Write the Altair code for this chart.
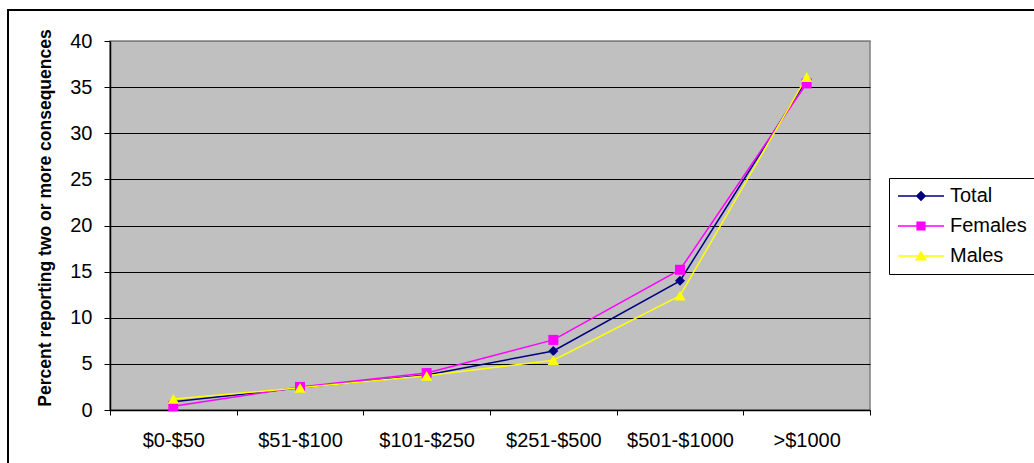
import altair as alt
import pandas as pd

# Spending bands on the x axis
categories = ["$0-$50", "$51-$100", "$101-$250", "$251-$500", "$501-$1000", ">$1000"]

# Percent reporting two or more consequences, per band
series_names = ["Total", "Females", "Males"]
total = [0.9, 2.4, 3.8, 6.4, 14.0, 35.8]
females = [0.4, 2.5, 4.0, 7.6, 15.2, 35.4]
males = [1.2, 2.4, 3.7, 5.4, 12.4, 36.1]

y_ticks = [0, 5, 10, 15, 20, 25, 30, 35, 40]

# Styling per series
series_colors = ["#000080", "#FF00FF", "#FFFF00"]
marker_shapes = ["diamond", "square", "triangle-up"]
marker_sizes = [100, 100, 130]

# Legend glyphs: a short line with the series marker in its middle
legend_paths = [
    "M-1,-0.03H1V0.03H-1Z M0,-0.23L0.23,0L0,0.23L-0.23,0Z",
    "M-1,-0.03H1V0.03H-1Z M-0.2,-0.2H0.2V0.2H-0.2Z",
    "M-1,-0.03H1V0.03H-1Z M0,-0.24L0.27,0.2H-0.27Z",
]

rows = []
for name, vals in zip(series_names, [total, females, males]):
    for cat, v in zip(categories, vals):
        rows.append({"spend": cat, "series": name, "pct": v})
df = pd.DataFrame(rows)

FONT = "Liberation Sans"

x_enc = alt.X(
    "spend:N",
    sort=categories,
    scale=alt.Scale(type="band", domain=categories, paddingInner=0, paddingOuter=0),
    axis=alt.Axis(
        title=None,
        labelAngle=0,
        tickBand="extent",
        tickSize=5,
        tickColor="#000000",
        domainColor="#000000",
        domainWidth=1.5,
        labelFont=FONT,
        labelFontSize=20,
        labelColor="#000000",
        labelPadding=15,
        grid=False,
    ),
)

y_enc = alt.Y(
    "pct:Q",
    scale=alt.Scale(domain=[0, 40], nice=False),
    axis=alt.Axis(
        values=y_ticks,
        title="Percent reporting two or more consequences",
        titleFont=FONT,
        titleFontSize=17.5,
        titleFontWeight="bold",
        titleColor="#000000",
        titleAngle=270,
        titleAlign="center",
        titleBaseline="alphabetic",
        titleX=-59.5,
        titleY=176.5,
        tickSize=6,
        tickColor="#000000",
        domainColor="#000000",
        domainWidth=1.5,
        labelFont=FONT,
        labelFontSize=20,
        labelColor="#000000",
        labelPadding=12,
        grid=True,
        gridColor={"condition": {"test": "datum.value >= 40", "value": "#808080"}, "value": "#000000"},
        gridWidth=1,
    ),
)

color_scale = alt.Scale(domain=series_names, range=series_colors)

# The legend box runs past the right edge: widen each label with trailing
# spaces, closed by a zero-width space so they are not trimmed away
legend = alt.Legend(
    title=None,
    orient="none",
    legendX=779,
    legendY=137,
    padding=3,
    strokeColor="#000000",
    fillColor="#FFFFFF",
    clipHeight=30,
    rowPadding=0,
    symbolOffset=6,
    labelOffset=6,
    symbolSize=2116,
    symbolStrokeWidth=0,
    symbolOpacity=1,
    labelFont=FONT,
    labelFontSize=20,
    labelColor="#000000",
    labelExpr="datum.label + '        \u200b'",
)

color_enc = alt.Color("series:N", scale=color_scale, legend=legend)

# Layer that only feeds the legend (its data is filtered away)
legend_layer = (
    alt.Chart(df)
    .transform_filter("false")
    .mark_point(filled=True, size=2116, opacity=1)
    .encode(
        x=x_enc,
        y=y_enc,
        color=color_enc,
        shape=alt.Shape(
            "series:N",
            scale=alt.Scale(domain=series_names, range=legend_paths),
            legend=legend,
        ),
    )
)

# Outer frame around the whole figure
frame = (
    alt.Chart(pd.DataFrame({"k": [0]}))
    .mark_rect(fillOpacity=0, stroke="#000000", strokeWidth=2)
    .encode(
        x=alt.value(-102),
        x2=alt.value(1200),
        y=alt.value(-31),
        y2=alt.value(600),
    )
)

lines = (
    alt.Chart(df)
    .mark_line(strokeWidth=1.5)
    .encode(x=x_enc, y=y_enc, color=color_enc, detail="series:N")
)

point_layers = []
for name, shp, sz in zip(series_names, marker_shapes, marker_sizes):
    point_layers.append(
        alt.Chart(df)
        .transform_filter(alt.datum.series == name)
        .mark_point(filled=True, shape=shp, size=sz, opacity=1)
        .encode(x=x_enc, y=y_enc, color=color_enc)
    )

chart = (
    alt.layer(legend_layer, frame, lines, *point_layers)
    .properties(
        width=760,
        height=369,
        autosize=alt.AutoSizeParams(type="none"),
        padding={"left": 110, "top": 41, "right": 164, "bottom": 53},
        background="#FFFFFF",
    )
    .configure_view(fill="#C0C0C0", stroke="#808080", strokeWidth=1.5)
)

chart.save("out.html", embed_options={"renderer": "svg", "actions": False})
